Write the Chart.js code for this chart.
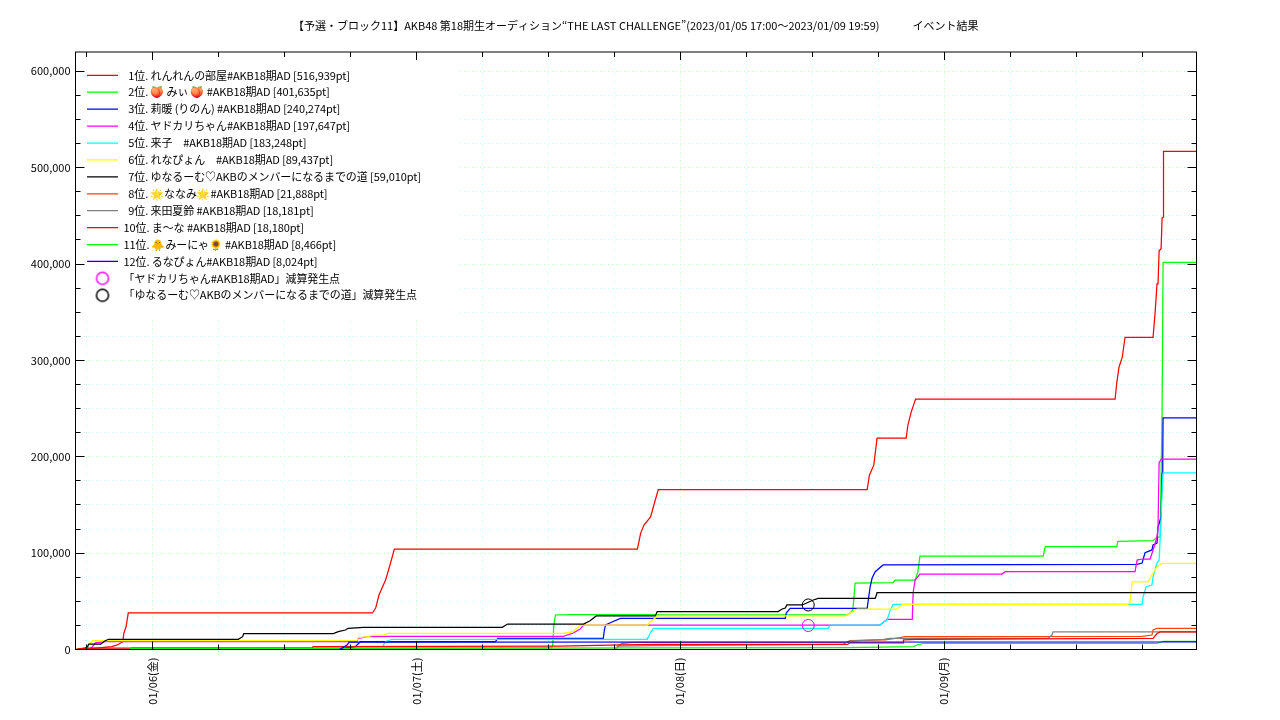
<!DOCTYPE html>
<html lang="ja"><head><meta charset="utf-8">
<style>html,body{margin:0;padding:0;background:#fff}canvas{display:block}</style>
<script src="https://cdn.jsdelivr.net/npm/chart.js@4/dist/chart.umd.js"></script>
</head><body><canvas id="c" width="1280" height="720"></canvas>
<script>
// x = hours since 2023/01/05 00:00, y = points
const chartTitle = '【予選・ブロック11】AKB48 第18期生オーディション“THE LAST CHALLENGE”(2023/01/05 17:00〜2023/01/09 19:59)　　　イベント結果';
const dayLabels = {24:'01/06(金)',48:'01/07(土)',72:'01/08(日)',96:'01/09(月)'};
const yTickValues = [0,25000,50000,75000,100000,125000,150000,175000,200000,225000,250000,275000,300000,325000,350000,375000,400000,425000,450000,475000,500000,525000,550000,575000,600000];
const names = [
 '  1位. れんれんの部屋#AKB18期AD [516,939pt]',
 '  2位. 🍑 みぃ 🍑 #AKB18期AD [401,635pt]',
 '  3位. 莉暖 (りのん) #AKB18期AD [240,274pt]',
 '  4位. ヤドカリちゃん#AKB18期AD [197,647pt]',
 '  5位. 来子　#AKB18期AD [183,248pt]',
 '  6位. れなぴょん　#AKB18期AD [89,437pt]',
 '  7位. ゆなるーむ♡AKBのメンバーになるまでの道 [59,010pt]',
 '  8位. 🌟ななみ🌟#AKB18期AD [21,888pt]',
 '  9位. 来田夏鈴 #AKB18期AD [18,181pt]',
 '10位. ま〜な #AKB18期AD [18,180pt]',
 '11位. 🐥みーにゃ🌻 #AKB18期AD [8,466pt]',
 '12位. るなぴょん#AKB18期AD [8,024pt]'];
const markerNames = ['「ヤドカリちゃん#AKB18期AD」減算発生点','「ゆなるーむ♡AKBのメンバーになるまでの道」減算発生点'];
const colors = ['#ff0000','#00ff00','#0000ff','#ff00ff','#00ffff','#ffff00','#000000','#ff4500','#808080','#ff0000','#00ff00','#0000ff'];

const rank1 = [[17,0],[17.9,500],[20.3,2900],[20.8,4700],[21.3,8100],[21.4,17100],[21.6,23600],[21.8,37900],[44,37900],[44.3,43000],[44.6,56500],[45.2,72000],[45.6,87700],[46,104200],[68.1,104200],[68.4,120800],[68.7,129100],[69.3,137500],[69.6,149900],[70,165900],[89,165900],[89.2,180900],[89.6,191300],[89.9,219300],[92.55,219300],[92.7,232700],[93,246300],[93.4,259800],[111.55,259800],[111.7,277000],[111.9,292900],[112.2,303300],[112.45,324000],[115,324000],[115.2,351900],[115.36,379500],[115.45,379500],[115.55,413700],[115.73,415800],[115.82,447600],[115.91,448600],[115.95,516939],[118.95,516939]];
const rank2 = [[17,0],[22,0],[22.1,1600],[60.3,1600],[60.4,4700],[60.5,25400],[60.65,35800],[62,36300],[69.7,36300],[69.9,36000],[87.2,36000],[87.45,37900],[87.7,41000],[87.9,69000],[91.35,69500],[91.55,72100],[93.35,72100],[93.6,80000],[93.8,97000],[105,97000],[105.2,106700],[111.7,106700],[111.8,112300],[115,112900],[115.36,116700],[115.64,116700],[115.82,245400],[115.91,401635],[118.95,401635]];
const rank3 = [[17,0],[41,0],[41.2,1200],[42.45,2900],[42.9,8100],[55.2,8100],[55.4,11600],[65,11600],[65.1,20200],[65.2,25400],[65.64,27800],[66.55,32300],[81.55,32300],[81.64,37900],[82,42700],[89,42700],[89.1,51300],[89.27,65100],[89.45,74200],[89.73,80700],[90.45,87700],[113.55,88400],[114,89700],[114.27,100400],[114.9,103300],[115,108400],[115.36,110500],[115.45,127100],[115.73,137500],[115.82,183100],[115.88,196600],[115.91,240274],[118.95,240274]];
const rank4 = [[17,0],[18.18,0],[18.55,2900],[18.8,7000],[19.7,8100],[42.6,8100],[42.7,11600],[43.55,13300],[45.8,13700],[61.36,13700],[62.27,17100],[62.9,21300],[63.2,25400],[90.18,25400],[90.8,31300],[93.1,31300],[93.18,58600],[93.36,72100],[93.8,78300],[101.27,78300],[101.55,80700],[113.36,80700],[113.55,92800],[114,93900],[114.73,93900],[115,103300],[115.36,116700],[115.45,127100],[115.55,193500],[115.73,197647],[118.95,197647]];
const rank5 = [[17,0],[30,800],[44.9,800],[45,4700],[45.18,8100],[45.8,10600],[69,10600],[69.27,17100],[69.55,22000],[85.45,22000],[85.64,25400],[90.18,25400],[90.36,27500],[90.8,30600],[91.1,41000],[91.36,46900],[114,46900],[114.1,54800],[114.36,65100],[114.9,66900],[115,75500],[115.36,89700],[115.55,92800],[115.73,134300],[115.82,165400],[115.91,183248],[118.95,183248]];
const rank6 = [[17,0],[17.45,1500],[17.9,1900],[18.2,4700],[18.55,9100],[42.6,9100],[42.7,12200],[43.55,13300],[44.1,15000],[45,15000],[45.45,16800],[61.36,16800],[62.27,18500],[62.9,25400],[69,25400],[69.27,28800],[69.73,32700],[69.9,34800],[87,34800],[87.45,37500],[87.9,41000],[88.1,42000],[91.7,42000],[92.2,46900],[112.7,46900],[112.9,48200],[113.1,70300],[114.55,70300],[114.9,77300],[115.36,85900],[115.82,89437],[118.95,89437]];
const rank7 = [[17,0],[17.9,1500],[18.1,2900],[18.2,5700],[19.3,5700],[19.7,9100],[20,10600],[31.8,10600],[32.2,13300],[32.3,16400],[40.45,16400],[40.9,18500],[41.55,20200],[41.8,22000],[43.2,23000],[55.8,23000],[56.3,26400],[63.2,26400],[63.8,29900],[64.36,34800],[69.73,34800],[69.9,39400],[80.9,39400],[81.27,42000],[81.55,43000],[81.7,46200],[83.1,46200],[84.1,51400],[84.55,53100],[89.73,53100],[89.9,58900],[118.95,59010]];
const rank8 = [[17,0],[66.1,500],[66.36,3600],[66.7,6400],[67.7,7500],[87.27,7500],[87.45,9300],[90.64,9900],[92,12400],[92.45,13300],[114,13500],[114.9,15000],[115,20200],[115.36,21888],[118.95,21888]];
const rank9 = [[17,0],[66,0],[66.4,3400],[69.7,4100],[86.8,5200],[87.3,8800],[90.5,10400],[91,11600],[105.45,11600],[105.8,15000],[105.9,18181],[118.95,18181]];
const rank10 = [[17,0],[17.9,1500],[22,1500],[38.5,1500],[38.6,2900],[61,3600],[66.7,4700],[69.9,5200],[87.2,5200],[87.45,7000],[92.27,7000],[92.3,9900],[93.5,10600],[115,11500],[115.36,16600],[115.64,18180],[118.95,18180]];
const rank11 = [[17,0],[21.9,0],[22,800],[69.9,1600],[87.18,2000],[93.18,3000],[93.55,4700],[94.1,6400],[115.36,6400],[115.9,8466],[118.95,8466]];
const rank12 = [[17,0],[41,0],[41.2,1200],[41.7,4700],[41.9,7600],[115.9,7800],[116,8024],[118.95,8024]];
const ranks = [rank1,rank2,rank3,rank4,rank5,rank6,rank7,rank8,rank9,rank10,rank11,rank12];
const markerA = [[83.64,24900]];
const markerB = [[83.64,46200]];
const markerColors = ['#ff00ff','#000000'];

const FONT = '"Noto Sans CJK JP","Noto Color Emoji",sans-serif';
Chart.defaults.font.family = FONT;
Chart.defaults.font.size = 11;
Chart.defaults.color = '#000';
const toXY = p => p.map(([x,y]) => ({x,y}));

function ringImage(color){
  const k = document.createElement('canvas'); k.width = 16; k.height = 16;
  const g = k.getContext('2d'); g.strokeStyle = color; g.lineWidth = 1.5;
  g.beginPath(); g.arc(8,8,6,0,Math.PI*2); g.stroke();
  return k;
}

const frame = {
  id:'frame',
  beforeLayout(chart){ // legend sits above the plotted lines
    const l = chart.legend;
    if (l) l._layers = () => [{z:1, draw:a => {
      const c = chart.ctx; c.save(); c.letterSpacing = '-0.09px'; l.draw(a); c.restore();
    }}];
  },
  afterLayout(chart){
    const l = chart.legend, a = chart.chartArea, t = chart.titleBlock;
    l.left = a.left + 5.58; l.top = 63.9;
    t.left = 0; t.right = 1271.5;
  },
  beforeDatasetsDraw(chart){
    const a = chart.chartArea, c = chart.ctx;
    c.save(); c.fillStyle = '#fff';
    c.fillRect(a.left+1, a.top+1, 458-a.left, 316-a.top);
    c.restore();
  },
  afterDatasetsDraw(chart){
    const a = chart.chartArea, c = chart.ctx, sx = chart.scales.x, sy = chart.scales.y;
    c.save(); c.strokeStyle = '#000'; c.lineWidth = 1;
    c.beginPath();
    sx.ticks.forEach(t => {
      const p = Math.round(sx.getPixelForValue(t.value)-.5)+.5, n = t.value%24===0 ? 8 : 5;
      c.moveTo(p,a.bottom); c.lineTo(p,a.bottom-n); c.moveTo(p,a.top); c.lineTo(p,a.top+n);
    });
    sy.ticks.forEach(t => {
      const p = Math.round(sy.getPixelForValue(t.value)-.5)+.5, n = t.value%100000===0 ? 9 : 5;
      c.moveTo(a.left,p); c.lineTo(a.left+n,p); c.moveTo(a.right,p); c.lineTo(a.right-n,p);
    });
    c.stroke();
    c.strokeRect(a.left,a.top,a.right-a.left,a.bottom-a.top);
    c.restore();
  }
};

const lineSets = ranks.map((r,i) => ({label:names[i], data:toXY(r), borderColor:colors[i], backgroundColor:colors[i],
  borderWidth:1.25, pointRadius:0, tension:0, fill:false, order:40-i}));
const markerSets = [markerA,markerB].map((m,i) => ({label:markerNames[i], data:toXY(m), showLine:false,
  borderColor:markerColors[i], backgroundColor:'rgba(0,0,0,0)', pointBorderColor:markerColors[i], pointBackgroundColor:'rgba(0,0,0,0)',
  pointStyle:'circle', pointRadius:6, pointBorderWidth:1, order:10-i}));

new Chart(document.getElementById('c'), {
  type:'line',
  data:{datasets:[...lineSets,...markerSets]},
  plugins:[frame],
  options:{
    responsive:false, animation:false, devicePixelRatio:1,
    layout:{padding:{left:0,right:83.5,top:0,bottom:0}},
    plugins:{
      tooltip:{enabled:false},
      title:{display:true,text:chartTitle,font:{size:11,weight:'normal',family:FONT},color:'#000',padding:{top:19.4,bottom:19.4}},
      legend:{
        position:'chartArea', align:'start',
        labels:{
          usePointStyle:true, pointStyleWidth:31, padding:5.92, font:{size:11,family:FONT}, color:'#000',
          generateLabels(chart){
            return chart.data.datasets.map((d,i) => ({
              text:d.label, fontColor:'#000', hidden:false, datasetIndex:i,
              strokeStyle:d.borderColor, fillStyle:d.borderColor, lineWidth:1.25,
              pointStyle: i<12 ? 'line' : ringImage(d.borderColor)
            }));
          }
        }
      }
    },
    scales:{
      x:{type:'linear',min:17,max:118.95,
        grid:{drawTicks:false,lineWidth:1,color:c => (c.tick && c.tick.value%24===0) ? '#bbffbb' : '#c4ffff'},
        border:{dash:[1,3],display:false},
        afterFit(s){ s.height = 70.5; },
        ticks:{stepSize:6,autoSkip:false,includeBounds:false,minRotation:90,maxRotation:90,padding:8,
          callback:v => dayLabels[v] || ''}},
      y:{type:'linear',min:0,max:620000,
        grid:{drawTicks:false,lineWidth:1,color:c => (c.tick && c.tick.value%100000===0) ? '#bbffbb' : '#c4ffff'},
        border:{dash:[1,3],display:false},
        afterFit(s){ s.width = 75.5; },
        afterBuildTicks(s){ s.ticks = yTickValues.map(value => ({value})); },
        ticks:{autoSkip:false,padding:5,
          callback:v => v%100000===0 ? v.toLocaleString('en-US') : ''}}
    }
  }
});
</script></body></html>
